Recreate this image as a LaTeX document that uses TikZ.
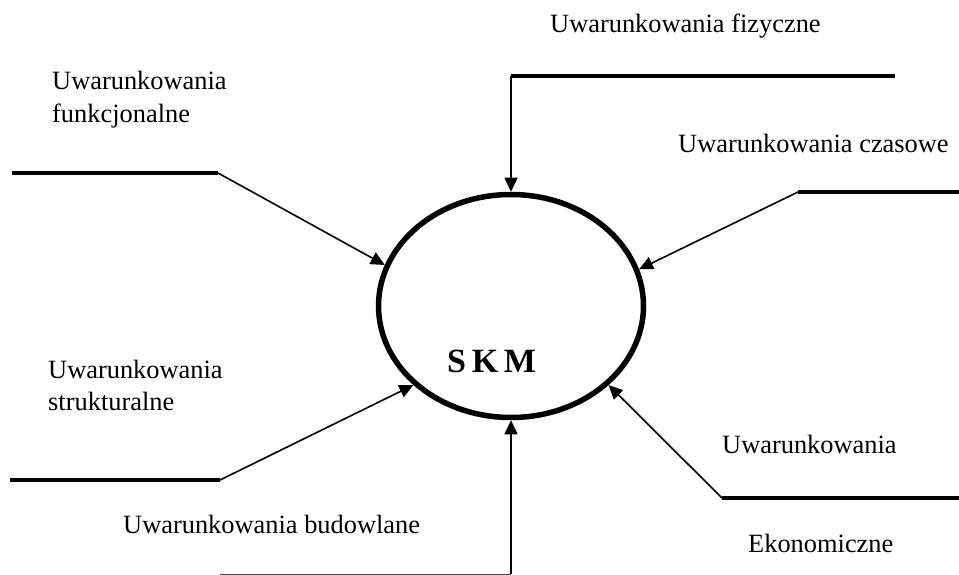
\documentclass[tikz,border=0pt]{standalone}
\usepackage{fontspec}
\setmainfont{Liberation Serif}
\usetikzlibrary{arrows.meta,shapes.geometric}
\begin{document}
\begin{tikzpicture}[x=1pt,y=-1pt,
  bar/.style={line width=3.6pt},
  feed/.style={line width=1.6pt,-{Triangle[length=14pt,width=13pt]}},
  lbl/.style={anchor=base west,inner sep=0pt,font=\fontsize{26.4}{33}\selectfont,align=left},
  ]
\useasboundingbox (0,0) rectangle (959,575);
\node[ellipse,draw,line width=5.5pt,minimum width=265pt,minimum height=223pt,inner sep=0pt] (e) at (511,306) {};
\node[anchor=base west,inner sep=0pt,font=\fontsize{34}{40}\selectfont\bfseries] (skm) at (447,372) {S\,K\,M};
% labels
\node[lbl] (lf) at (550,33) {Uwarunkowania fizyczne};
\node[lbl] (lc) at (678,153) {Uwarunkowania czasowe};
\node[lbl] (lfu1) at (52,90) {Uwarunkowania};
\node[lbl] (lfu2) at (52,123) {funkcjonalne};
\node[lbl] (ls1) at (48,378) {Uwarunkowania};
\node[lbl] (ls2) at (48,410) {strukturalne};
\node[lbl] (lb) at (123,533) {Uwarunkowania budowlane};
\node[lbl] (le1) at (722,453) {Uwarunkowania};
\node[lbl] (le2) at (748,552) {Ekonomiczne};
% bar end points
\coordinate (ta) at (895,76); \coordinate (tb) at (511,76);
\coordinate (ca) at (959,192); \coordinate (cb) at (798,192);
\coordinate (fa) at (12,173); \coordinate (fb) at (218,173);
\coordinate (sa) at (10,480); \coordinate (sb) at (220,480);
\coordinate (ea) at (959,498); \coordinate (eb) at (722,498);
\coordinate (ba) at (220,574.5); \coordinate (bb) at (511,574.5);
% bars
\draw[bar] (ta) -- (tb);
\draw[bar] (ca) -- (cb);
\draw[bar] (fa) -- (fb);
\draw[bar] (sa) -- (sb);
\draw[bar] (ea) -- (eb);
\draw[line width=2pt,black!70] (ba) -- (bb);
% feeds
\draw[feed] (tb) -- (e.north);
\draw[feed] (cb) -- (e.16);
\draw[feed] (fb) -- (e.162);
\draw[feed] (sb) -- (e.219);
\draw[feed] (eb) -- (e.-39);
\draw[feed] ([yshift=1pt]bb) -- (e.south);
\end{tikzpicture}
\end{document}
